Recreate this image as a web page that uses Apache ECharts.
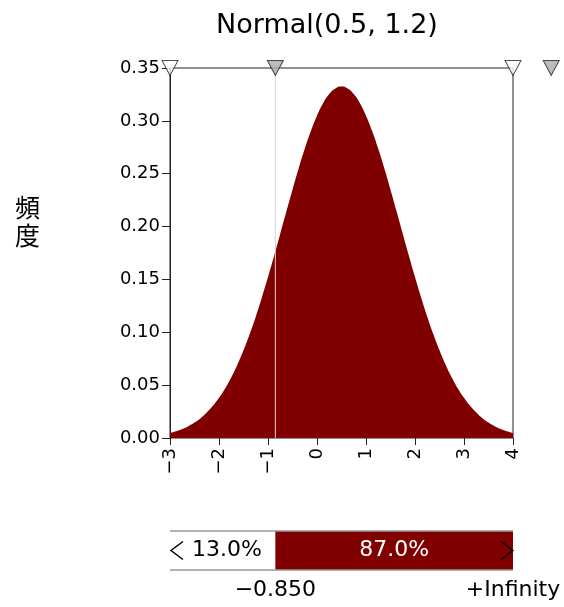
<!DOCTYPE html>
<html><head><meta charset="utf-8">
<script src="https://cdn.jsdelivr.net/npm/echarts@6/dist/echarts.min.js"></script>
<style>html,body{margin:0;padding:0;background:#fff}#c{width:564px;height:607px}</style>
</head><body><div id="c"></div>
<script>
const titleText = 'Normal(0.5, 1.2)';
const yName = '頻\n度';
const xMin = -3, xMax = 4, xStep = 1;
const yMin = 0, yMax = 0.35, yStep = 0.05;
const xs = [-3,-2.875,-2.75,-2.625,-2.5,-2.375,-2.25,-2.125,-2,-1.875,-1.75,-1.625,-1.5,-1.375,-1.25,-1.125,-1,-0.875,-0.75,-0.625,-0.5,-0.375,-0.25,-0.125,
  0,0.125,0.25,0.375,0.5,0.625,0.75,0.875,1,1.125,1.25,1.375,1.5,1.625,1.75,1.875,2,2.125,2.25,2.375,2.5,2.625,2.75,2.875,3,3.125,3.25,3.375,3.5,3.625,3.75,3.875,4];
const density = [0.0047,0.0064,0.0085,0.0112,0.0146,0.0188,0.0241,0.0304,0.0380,0.0469,0.0573,0.0693,0.0829,0.0981,0.1148,0.1329,0.1522,0.1724,0.1932,0.2142,0.2349,0.2549,0.2735,0.2903,
  0.3048,0.3166,0.3253,0.3306,0.3324,0.3306,0.3253,0.3166,0.3048,0.2903,0.2735,0.2549,0.2349,0.2142,0.1932,0.1724,0.1522,0.1329,0.1148,0.0981,0.0829,0.0693,0.0573,0.0469,0.0380,0.0304,0.0241,0.0188,0.0146,0.0112,0.0085,0.0064,0.0047];
const cutoff = -0.85;
const markerX = [-3, cutoff, 4, 4.78];
const markerFill = ['#ffffff', '#aaaaaa', '#ffffff', '#aaaaaa'];
const leftPct = '13.0%';
const rightPct = '87.0%';
const cutLabel = '\u22120.850';
const rightLabel = '+Infinity';
const FONT = '"DejaVu Sans", "Noto Sans CJK JP", sans-serif';

const chart = echarts.init(document.getElementById('c'));
const fmtX = v => (v < 0 ? '\u2212' + Math.abs(v) : String(v));

chart.setOption({
  animation: false,
  textStyle: {fontFamily: FONT},
  title: {text: titleText, left: 322, top: 7, textAlign: 'center',
    textStyle: {fontFamily: FONT, fontSize: 27, fontWeight: 'normal', color: '#000'}},
  graphic: [{type: 'text', left: 15, top: 193,
    style: {text: yName, font: '25px "Noto Sans CJK JP"', lineHeight: 28, fill: '#000'}}],
  grid: [
    {left: 170, right: 51, top: 68, bottom: 169, show: true, borderColor: '#222', borderWidth: 1, backgroundColor: 'transparent'},
    {left: 170, right: 51, top: 531, height: 39}
  ],
  xAxis: [
    {gridIndex: 0, type: 'value', min: xMin, max: xMax, interval: xStep,
      axisLine: {show: false, onZero: false}, splitLine: {show: false},
      axisTick: {show: true, length: 7, lineStyle: {color: '#222'}},
      axisLabel: {rotate: 90, margin: 10, fontSize: 18, color: '#000', formatter: fmtX}},
    {gridIndex: 1, type: 'value', min: xMin, max: xMax, show: false}
  ],
  yAxis: [
    {gridIndex: 0, type: 'value', min: yMin, max: yMax, interval: yStep,
      axisLine: {show: true, onZero: false, lineStyle: {color: '#222'}}, splitLine: {show: false},
      axisTick: {show: true, length: 8, lineStyle: {color: '#222'}},
      axisLabel: {margin: 10, fontSize: 18, color: '#000', formatter: v => v.toFixed(2)}},
    {gridIndex: 1, type: 'category', data: ['p'], show: false}
  ],
  series: [
    {type: 'line', xAxisIndex: 0, yAxisIndex: 0, smooth: true, symbol: 'none',
      lineStyle: {width: 0}, areaStyle: {color: '#800000', opacity: 1},
      data: xs.map((x, i) => [x, density[i]]), z: 2},
    {type: 'line', xAxisIndex: 0, yAxisIndex: 0, symbol: 'none',
      lineStyle: {color: '#d4d4d4', width: 1},
      data: [[cutoff, yMin], [cutoff, yMax]], z: 3},
    {type: 'scatter', xAxisIndex: 0, yAxisIndex: 0, clip: false,
      symbol: 'triangle', symbolRotate: 180, symbolSize: [16, 15],
      data: markerX.map((x, i) => ({value: [x, yMax], itemStyle: {color: markerFill[i], borderColor: '#222', borderWidth: 1}})),
      z: 5},
    {type: 'custom', xAxisIndex: 1, yAxisIndex: 1, clip: false,
      data: [[cutoff, 0]],
      renderItem: function (params, api) {
        const cs = params.coordSys;
        const x0 = api.coord([xMin, 0])[0];
        const x1 = api.coord([xMax, 0])[0];
        const xc = api.coord([api.value(0), 0])[0];
        const top = cs.y, h = cs.height, bot = cs.y + cs.height, mid = cs.y + cs.height / 2;
        const f = '22px ' + FONT;
        return {type: 'group', children: [
          {type: 'rect', shape: {x: xc, y: top, width: x1 - xc, height: h}, style: {fill: '#800000'}},
          {type: 'line', shape: {x1: x0, y1: top, x2: x1, y2: top}, style: {stroke: '#999', lineWidth: 1.5}},
          {type: 'line', shape: {x1: x0, y1: bot, x2: x1, y2: bot}, style: {stroke: '#999', lineWidth: 1.5}},
          {type: 'polyline', shape: {points: [[x0 + 13, mid - 9], [x0 + 1, mid], [x0 + 13, mid + 9]]}, style: {stroke: '#000', lineWidth: 1.5, fill: null}},
          {type: 'text', x: x0 + 22, y: mid, style: {text: leftPct, font: f, fill: '#000', align: 'left', verticalAlign: 'middle'}},
          {type: 'text', x: (xc + x1) / 2, y: mid, style: {text: rightPct, font: f, fill: '#fff', align: 'center', verticalAlign: 'middle'}},
          {type: 'polyline', shape: {points: [[x1 - 12, mid - 9], [x1, mid], [x1 - 12, mid + 9]]}, style: {stroke: '#000', lineWidth: 1.5, fill: null}},
          {type: 'text', x: xc, y: bot + 20, style: {text: cutLabel, font: f, fill: '#000', align: 'center', verticalAlign: 'middle'}},
          {type: 'text', x: x1, y: bot + 20, style: {text: rightLabel, font: f, fill: '#000', align: 'center', verticalAlign: 'middle'}}
        ]};
      }}
  ]
});
</script></body></html>
